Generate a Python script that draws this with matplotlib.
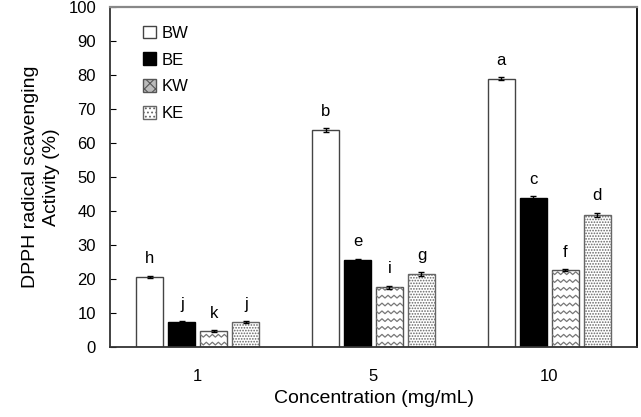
import numpy as np
import matplotlib
matplotlib.use("Agg")
import matplotlib.pyplot as plt
from matplotlib.patches import Patch

plt.rcParams['font.family'] = ['Liberation Sans', 'DejaVu Sans']
plt.rcParams['hatch.linewidth'] = 0.8

# data
concentrations = ['1', '5', '10']
series = ['BW', 'BE', 'KW', 'KE']
values = {
    'BW': [20.6, 63.7, 78.9],
    'BE': [7.3, 25.7, 43.7],
    'KW': [4.6, 17.6, 22.6],
    'KE': [7.3, 21.5, 38.8],
}
errors = {
    'BW': [0.3, 0.6, 0.4],
    'BE': [0.2, 0.2, 0.7],
    'KW': [0.3, 0.4, 0.3],
    'KE': [0.3, 0.5, 0.7],
}
letters = {
    'BW': ['h', 'b', 'a'],
    'BE': ['j', 'e', 'c'],
    'KW': ['k', 'i', 'f'],
    'KE': ['j', 'g', 'd'],
}

fig = plt.figure(figsize=(6.41, 4.17), dpi=100)
ax = fig.add_axes([0.1716, 0.1679, 0.8222, 0.8153])

x = np.arange(len(concentrations))
width = 0.154
step = 0.182

def zigzag(ax, bar, color='#777777'):
    # draw wavy horizontal lines inside a bar, clipped to it
    x0 = bar.get_x()
    w = bar.get_width()
    h = bar.get_height()
    xs = np.linspace(x0, x0 + w, 10)
    amp = 0.4
    for yy in np.arange(1.0, h + 2, 2.3):
        ys = yy + amp * np.array([(-1) ** i for i in range(len(xs))])
        ln, = ax.plot(xs, ys, color=color, lw=0.9, zorder=3)
        ln.set_clip_path(bar)

for i, s in enumerate(series):
    pos = x + (i - 1.5) * step
    if s == 'BW':
        kw = dict(color='white', edgecolor='#444444')
    elif s == 'BE':
        kw = dict(color='black', edgecolor='black')
    elif s == 'KW':
        kw = dict(color='white', edgecolor='#555555')
    else:
        kw = dict(color='white', edgecolor='#666666', hatch='......')
    bars = ax.bar(pos, values[s], width, linewidth=1.0, zorder=2, **kw)
    ax.errorbar(pos, values[s], yerr=errors[s], fmt='none', ecolor='black',
                elinewidth=1, capsize=2, capthick=1, zorder=4)
    if s == 'KW':
        for b in bars:
            zigzag(ax, b)
    for p, v, e, t in zip(pos, values[s], errors[s], letters[s]):
        ax.text(p, v + e + 2.8, t, ha='center', va='bottom', fontsize=12)

ax.set_xlim(-0.5, 2.5)
ax.set_ylim(0, 100)
ax.set_yticks(np.arange(0, 101, 10))
ax.set_xticks(x)
ax.set_xticklabels(concentrations)
ax.tick_params(axis='y', direction='in', length=4, labelsize=12, pad=10)
ax.tick_params(axis='x', length=0, pad=16, labelsize=12)

ax.spines['top'].set_color('#888888')
ax.spines['top'].set_linewidth(1.6)
ax.spines['left'].set_color('#333333')
ax.spines['left'].set_linewidth(1.3)
ax.spines['bottom'].set_color('#333333')
ax.spines['bottom'].set_linewidth(1.3)
ax.spines['right'].set_color('black')
ax.spines['right'].set_linewidth(1.3)

ax.set_ylabel('DPPH radical scavenging\nActivity (%)', fontsize=14, labelpad=6,
              linespacing=1.3)
ax.set_xlabel('Concentration (mg/mL)', fontsize=14, labelpad=4)

handles = [
    Patch(facecolor='white', edgecolor='#444444', linewidth=1.0),
    Patch(facecolor='black', edgecolor='black'),
    Patch(facecolor='#bbbbbb', edgecolor='#555555', hatch='xxx'),
    Patch(facecolor='white', edgecolor='#666666', hatch='....'),
]
ax.legend(handles, series, loc='upper left', bbox_to_anchor=(0.05, 0.965),
          frameon=False, fontsize=12, handlelength=0.8, handleheight=0.8,
          handletextpad=0.3, labelspacing=0.7, borderaxespad=0)

fig.savefig('out.png', dpi=100)
